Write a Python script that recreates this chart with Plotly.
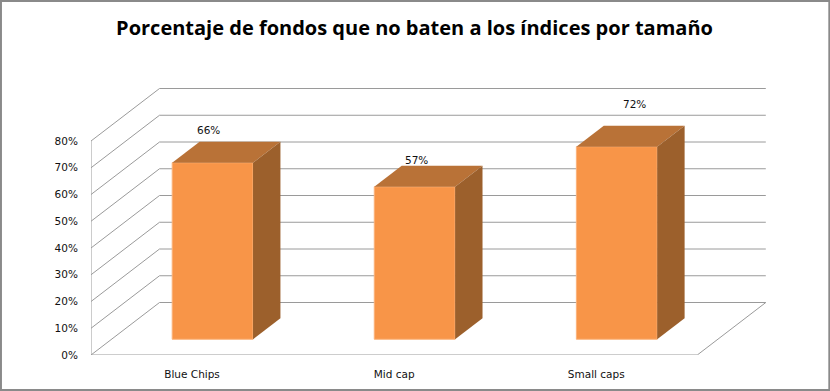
import plotly.graph_objects as go

TITLE = "Porcentaje de fondos que no baten a los índices por tamaño"
categories = ["Blue Chips", "Mid cap", "Small caps"]
values = [66, 57, 72]
tick_values = [0, 10, 20, 30, 40, 50, 60, 70, 80]
tick_labels = ["0%", "10%", "20%", "30%", "40%", "50%", "60%", "70%", "80%"]
data_labels = ["66%", "57%", "72%"]

# Layout / style (pixels and axis units of the oblique projection)
W, H = 830, 391
L, R, T, B = 91, 62.3, 80, 36
PX_PER_CAT = 202.0
PX_PER_PCT = 2.675
DEPTH_X = 68.5 / PX_PER_CAT
DEPTH_Y = 52.5 / PX_PER_PCT
BAR_W = 0.4
D0, D1 = 0.3, 0.7
X_MIN = -0.5
X_MAX = X_MIN + (W - L - R) / PX_PER_CAT
Y_MAX = (H - T - B) / PX_PER_PCT
LABEL_SHIFT = [(-4, 33), (2, 27), (18, 43)]
FRONT, TOP, SIDE, EDGE = "#F89548", "#B97237", "#9C602C", "#FBB27A"
GRID = "#9A9A9A"
FONT = "DejaVu Sans"


def px(cat, d):
    return cat + d * DEPTH_X


def py(v, d):
    return v + d * DEPTH_Y


xs = list(range(len(categories)))
fig = go.Figure()

# Front faces
fig.add_bar(
    x=[px(c, D0) for c in xs],
    y=values,
    base=[py(0, D0)] * len(values),
    width=BAR_W,
    marker=dict(color=FRONT, line=dict(color=EDGE, width=1)),
    hoverinfo="skip",
)

# Top and side faces
for c, v in zip(xs, values):
    l, r = c - BAR_W / 2, c + BAR_W / 2
    fig.add_scatter(
        x=[px(l, D0), px(r, D0), px(r, D1), px(l, D1), px(l, D0)],
        y=[py(v, D0), py(v, D0), py(v, D1), py(v, D1), py(v, D0)],
        fill="toself", fillcolor=TOP, mode="lines", line=dict(width=0), hoverinfo="skip",
    )
    fig.add_scatter(
        x=[px(r, D0), px(r, D1), px(r, D1), px(r, D0), px(r, D0)],
        y=[py(0, D0), py(0, D1), py(v, D1), py(v, D0), py(0, D0)],
        fill="toself", fillcolor=SIDE, mode="lines", line=dict(width=0), hoverinfo="skip",
    )

# Wall grid and axis frame
shapes = []


def seg(x0, y0, x1, y1):
    shapes.append(dict(type="line", xref="x", yref="y", x0=x0, y0=y0, x1=x1, y1=y1,
                       layer="below", line=dict(color=GRID, width=1)))


x_l, x_r = X_MIN, X_MIN + len(categories)
for t in tick_values:
    seg(px(x_l, 0), py(t, 0), px(x_l, 1), py(t, 1))
    seg(px(x_l, 1), py(t, 1), px(x_r, 1), py(t, 1))
seg(px(x_l, 0), py(tick_values[0], 0), px(x_l, 0), py(tick_values[-1], 0))
seg(px(x_l, 0), py(0, 0), px(x_r, 0), py(0, 0))
seg(px(x_r, 0), py(0, 0), px(x_r, 1), py(0, 1))

# Outer border of the picture
plot_w, plot_h = W - L - R, H - T - B
shapes.append(dict(type="rect", xref="paper", yref="paper",
                   x0=(1 - L) / plot_w, x1=(829 - L) / plot_w,
                   y0=(H - B - 390) / plot_h, y1=(H - B - 1) / plot_h,
                   layer="below", line=dict(color="#8A8A8A", width=2)))

annotations = [
    dict(x=px(c, D0), y=py(v, D0), text=t, showarrow=False, xref="x", yref="y",
         xshift=s[0], yshift=s[1], font=dict(family=FONT, size=10.5, color="#111111"))
    for c, v, t, s in zip(xs, values, data_labels, LABEL_SHIFT)
]

fig.update_layout(
    width=W, height=H, showlegend=False, autosize=False,
    paper_bgcolor="white", plot_bgcolor="rgba(0,0,0,0)",
    margin=dict(l=L, r=R, t=T, b=B, pad=0),
    title=dict(text=f"<b>{TITLE}</b>", x=414.5 / W, xanchor="center", y=1 - 28 / H, yanchor="middle",
               font=dict(family="Open Sans", size=20, color="#000000")),
    xaxis=dict(range=[X_MIN, X_MAX], tickvals=xs, ticktext=categories, showgrid=False, zeroline=False,
               showline=False, ticks="outside", ticklen=9, tickcolor="rgba(0,0,0,0)",
               tickfont=dict(family=FONT, size=10.5, color="#111111")),
    yaxis=dict(range=[0, Y_MAX], tickvals=tick_values, ticktext=tick_labels, showgrid=False, zeroline=False,
               showline=False, ticks="outside", ticklen=10, tickcolor="rgba(0,0,0,0)",
               tickfont=dict(family=FONT, size=10.5, color="#111111")),
    shapes=shapes, annotations=annotations,
)

fig.write_html("out.html", config={"displayModeBar": False},
               post_script="document.body.style.margin='0';document.body.style.overflow='hidden';")
